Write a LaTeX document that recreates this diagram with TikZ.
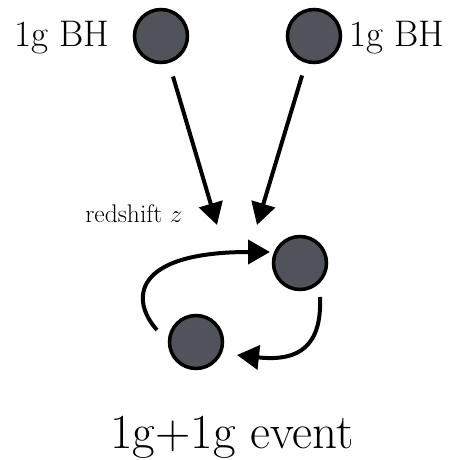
\documentclass[tikz,border=0pt]{standalone}
\usetikzlibrary{arrows.meta}
\definecolor{bhfill}{HTML}{50535A}
\begin{document}
\begin{tikzpicture}[x=1pt,y=-1pt,
  bh/.style={circle,draw=black,line width=3.5pt,fill=bhfill,minimum size=53pt,inner sep=0pt},
  arr/.style={line width=4pt,-{Triangle[length=22pt,width=24pt]}},
  lbl/.style={inner sep=0pt,font=\fontsize{37}{44}\selectfont}]
\useasboundingbox (0,0) rectangle (459,460);
\node[bh] (tl) at (161,36) {};
\node[bh] (tr) at (314,36) {};
\node[bh] (br) at (300,263) {};
\node[bh] (bl) at (196,342) {};
\node[lbl] (ltl) at (62,38) {1g BH};
\node[lbl] (ltr) at (397,38) {1g BH};
\node[inner sep=0pt,font=\fontsize{25.5}{30}\selectfont] (z) at (134,214) {redshift $z$};
\node[inner sep=0pt,font=\fontsize{49}{58}\selectfont] (ev) at (232,437) {1g+1g event};
\coordinate (tipL) at (217,225);
\coordinate (tipR) at (257,225);
\draw[arr,shorten <=14pt] (tl) -- (tipL);
\draw[arr,shorten <=13pt] (tr) -- (tipR);
\draw[arr] ([shift={(-39,-12)}]bl.center) .. controls (130,300) and (132,252) .. ([shift={(-30,-11)}]br.center);
\draw[arr] ([shift={(20,34)}]br.center) .. controls (322,345) and (300,362) .. ([shift={(41,13)}]bl.center);
\end{tikzpicture}
\end{document}
